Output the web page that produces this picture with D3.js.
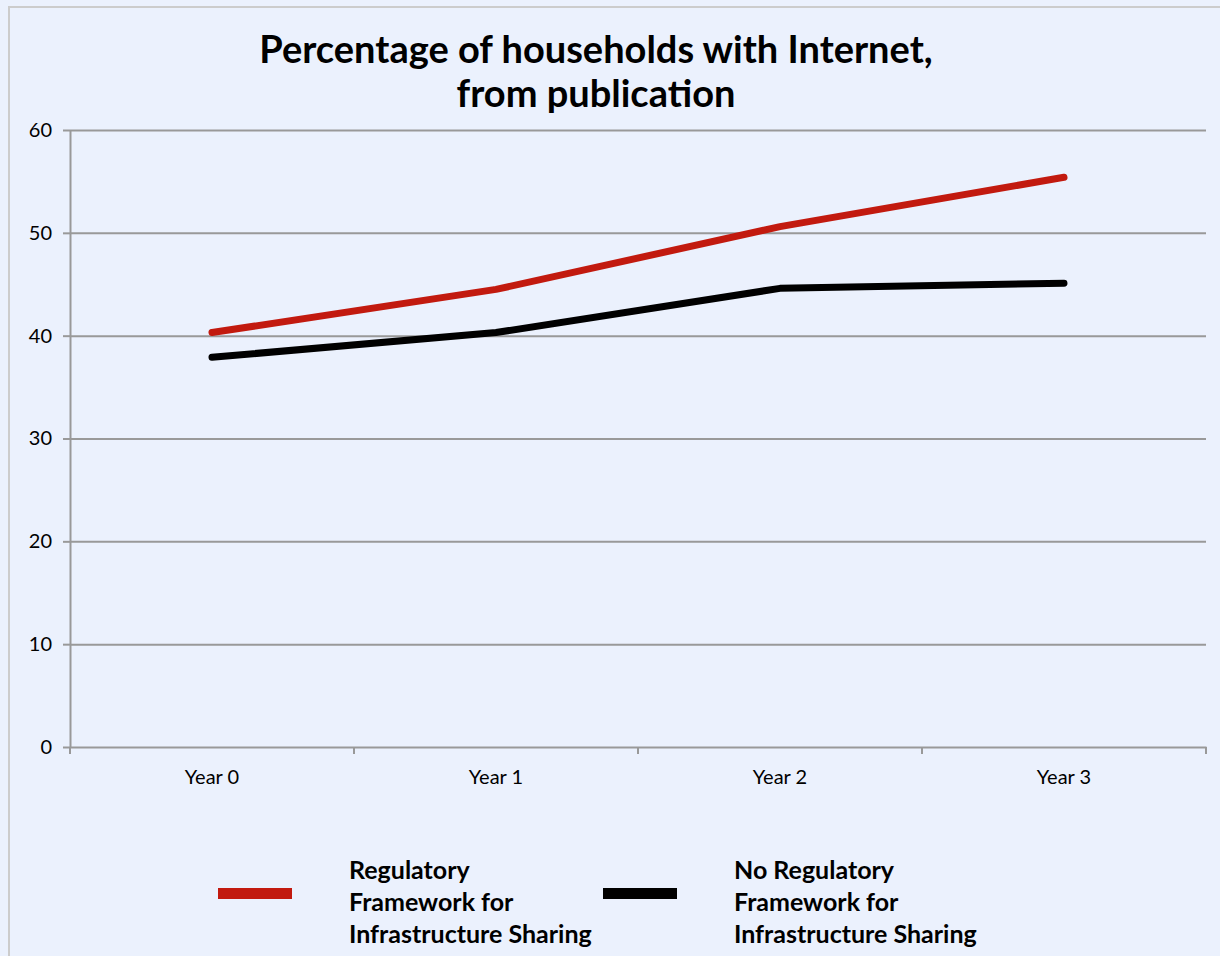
<!DOCTYPE html>
<html>
<head>
<meta charset="utf-8">
<script src="https://cdn.jsdelivr.net/npm/d3@7"></script>
<style>
  body { margin: 0; background: #ebf1fd; }
  svg { display: block; }
</style>
</head>
<body>
<svg id="chart"></svg>
<script>
const YEARS = ['Year 0', 'Year 1', 'Year 2', 'Year 3'];
const WITH_FRAMEWORK = [40.3, 44.5, 50.6, 55.4];
const NO_FRAMEWORK = [37.9, 40.3, 44.6, 45.1];
const Y_TICKS = [0, 10, 20, 30, 40, 50, 60];
const SERIES_NAMES = [
    ['Regulatory', 'Framework for', 'Infrastructure Sharing'],
    ['No Regulatory', 'Framework for', 'Infrastructure Sharing']
];
const SERIES_COLORS = ['#c21a0f', '#000000'];

const WIDTH = 1220;
const HEIGHT = 956;
const PLOT = { left: 70, right: 1206, top: 130, bottom: 747 };
const FONT = 'Lato, "Open Sans", sans-serif';

const svg = d3.select('#chart')
    .attr('width', WIDTH)
    .attr('height', HEIGHT);

// outer frame
svg.append('rect')
    .attr('x', 9).attr('y', 7)
    .attr('width', WIDTH + 20).attr('height', HEIGHT + 20)
    .attr('fill', '#ebf1fd')
    .attr('stroke', '#cccccc')
    .attr('stroke-width', 2);

const x = d3.scaleBand()
    .domain(YEARS)
    .range([PLOT.left, PLOT.right]);

const y = d3.scaleLinear()
    .domain([0, 60])
    .range([PLOT.bottom, PLOT.top]);

// title
svg.append('text')
    .attr('x', 596).attr('y', 63)
    .attr('text-anchor', 'middle')
    .attr('font-family', FONT)
    .attr('font-weight', 'bold')
    .attr('font-size', 38)
    .text('Percentage of households with Internet,');
svg.append('text')
    .attr('x', 596).attr('y', 107)
    .attr('text-anchor', 'middle')
    .attr('font-family', FONT)
    .attr('font-weight', 'bold')
    .attr('font-size', 38)
    .text('from publication');

// gridlines + y axis
const yAxis = svg.append('g')
    .attr('transform', `translate(${PLOT.left},0)`)
    .call(d3.axisLeft(y).tickValues(Y_TICKS).tickSize(7).tickPadding(11).tickSizeOuter(0));
yAxis.select('.domain').attr('stroke', '#999').attr('stroke-width', 2);
yAxis.selectAll('.tick line').attr('stroke', '#999').attr('stroke-width', 2);
yAxis.selectAll('.tick text')
    .attr('font-family', FONT)
    .attr('font-size', 20)
    .attr('fill', '#000');
yAxis.selectAll('.tick')
    .filter(d => d > 0)
    .append('line')
    .attr('x1', 0).attr('x2', PLOT.right - PLOT.left)
    .attr('stroke', '#999').attr('stroke-width', 2);

// x axis
const xAxis = svg.append('g')
    .attr('transform', `translate(0,${PLOT.bottom})`)
    .call(d3.axisBottom(x).tickSize(0).tickPadding(23).tickSizeOuter(0));
xAxis.select('.domain').attr('stroke', '#999').attr('stroke-width', 2);
xAxis.selectAll('.tick text')
    .attr('font-family', FONT)
    .attr('font-size', 20)
    .attr('fill', '#000');
const boundaries = YEARS.map(d => x(d)).concat([x(YEARS[YEARS.length - 1]) + x.bandwidth()]);
xAxis.selectAll('.sep')
    .data(boundaries)
    .enter()
    .append('line')
    .attr('x1', d => d).attr('x2', d => d)
    .attr('y1', 0).attr('y2', 7)
    .attr('stroke', '#999').attr('stroke-width', 2);

// lines
const line = d3.line()
    .x((d, i) => x(YEARS[i]) + x.bandwidth() / 2)
    .y(d => y(d));

[WITH_FRAMEWORK, NO_FRAMEWORK].forEach((values, i) => {
    svg.append('path')
        .datum(values)
        .attr('d', line)
        .attr('fill', 'none')
        .attr('stroke', SERIES_COLORS[i])
        .attr('stroke-width', 7)
        .attr('stroke-linecap', 'round')
        .attr('stroke-linejoin', 'round');
});

// legend
const legendX = [218, 603];
SERIES_NAMES.forEach((lines, i) => {
    const g = svg.append('g').attr('transform', `translate(${legendX[i]},0)`);
    g.append('rect')
        .attr('x', 0).attr('y', 888)
        .attr('width', 74).attr('height', 11)
        .attr('fill', SERIES_COLORS[i]);
    g.selectAll('text')
        .data(lines)
        .enter()
        .append('text')
        .attr('x', 131)
        .attr('y', (d, j) => 879 + j * 32)
        .attr('font-family', FONT)
        .attr('font-weight', 'bold')
        .attr('font-size', 25)
        .text(d => d);
});
</script>
</body>
</html>
